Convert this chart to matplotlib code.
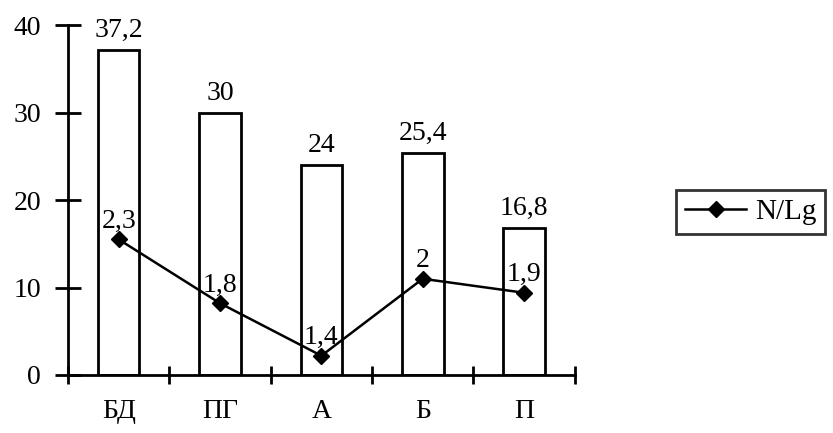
import matplotlib.pyplot as plt
import numpy as np

plt.rcParams['font.family'] = ['Liberation Serif', 'DejaVu Serif']

categories = ['БД', 'ПГ', 'А', 'Б', 'П']
bar_values = [37.2, 30, 24, 25.4, 16.8]
bar_labels = ['37,2', '30', '24', '25,4', '16,8']
line_values = [15.5, 8.2, 2.2, 11.0, 9.4]
line_labels = ['2,3', '1,8', '1,4', '2', '1,9']

fs = 20
lw = 2.0

fig = plt.figure(figsize=(8.33, 4.33), dpi=100)
ax = fig.add_axes([0.0816, 0.134, 0.6084, 0.808])

x = np.arange(1, len(categories) + 1)
ax.bar(x, bar_values, width=0.41, facecolor='white', edgecolor='black', linewidth=lw, zorder=2)
for xi, v, t in zip(x, bar_values, bar_labels):
    ax.annotate(t, (xi, v), xytext=(0, 5), textcoords='offset points',
                ha='center', va='bottom', fontsize=fs)

ax.plot(x, line_values, color='black', linewidth=1.8, marker='D', markersize=8,
        label='N/Lg', zorder=3)
for xi, v, t in zip(x, line_values, line_labels):
    ax.annotate(t, (xi, v), xytext=(0, 4), textcoords='offset points',
                ha='center', va='bottom', fontsize=fs)

ax.set_xlim(0.5, 5.5)
ax.set_ylim(0, 40)
ax.set_yticks([0, 10, 20, 30, 40])
ax.set_xticks(np.arange(0.5, 5.6, 1.0))
ax.set_xticklabels([])
ax.set_xticks(x, minor=True)
ax.set_xticklabels(categories, minor=True, fontsize=fs)
ax.tick_params(axis='x', which='minor', length=0, pad=17)
ax.tick_params(axis='x', which='major', direction='inout', length=13, width=lw)
ax.tick_params(axis='y', direction='inout', length=19, width=lw, labelsize=fs, pad=10)

for s in ['top', 'right']:
    ax.spines[s].set_visible(False)
for s in ['left', 'bottom']:
    ax.spines[s].set_linewidth(lw)

leg = fig.legend(loc='center left', bbox_to_anchor=(0.812, 0.51), fontsize=21,
                 frameon=True, fancybox=False, edgecolor='black', handlelength=2.1,
                 handletextpad=0.3, borderpad=0.3, borderaxespad=0)
leg.get_frame().set_linewidth(lw)

fig.savefig('out.png', dpi=100)
